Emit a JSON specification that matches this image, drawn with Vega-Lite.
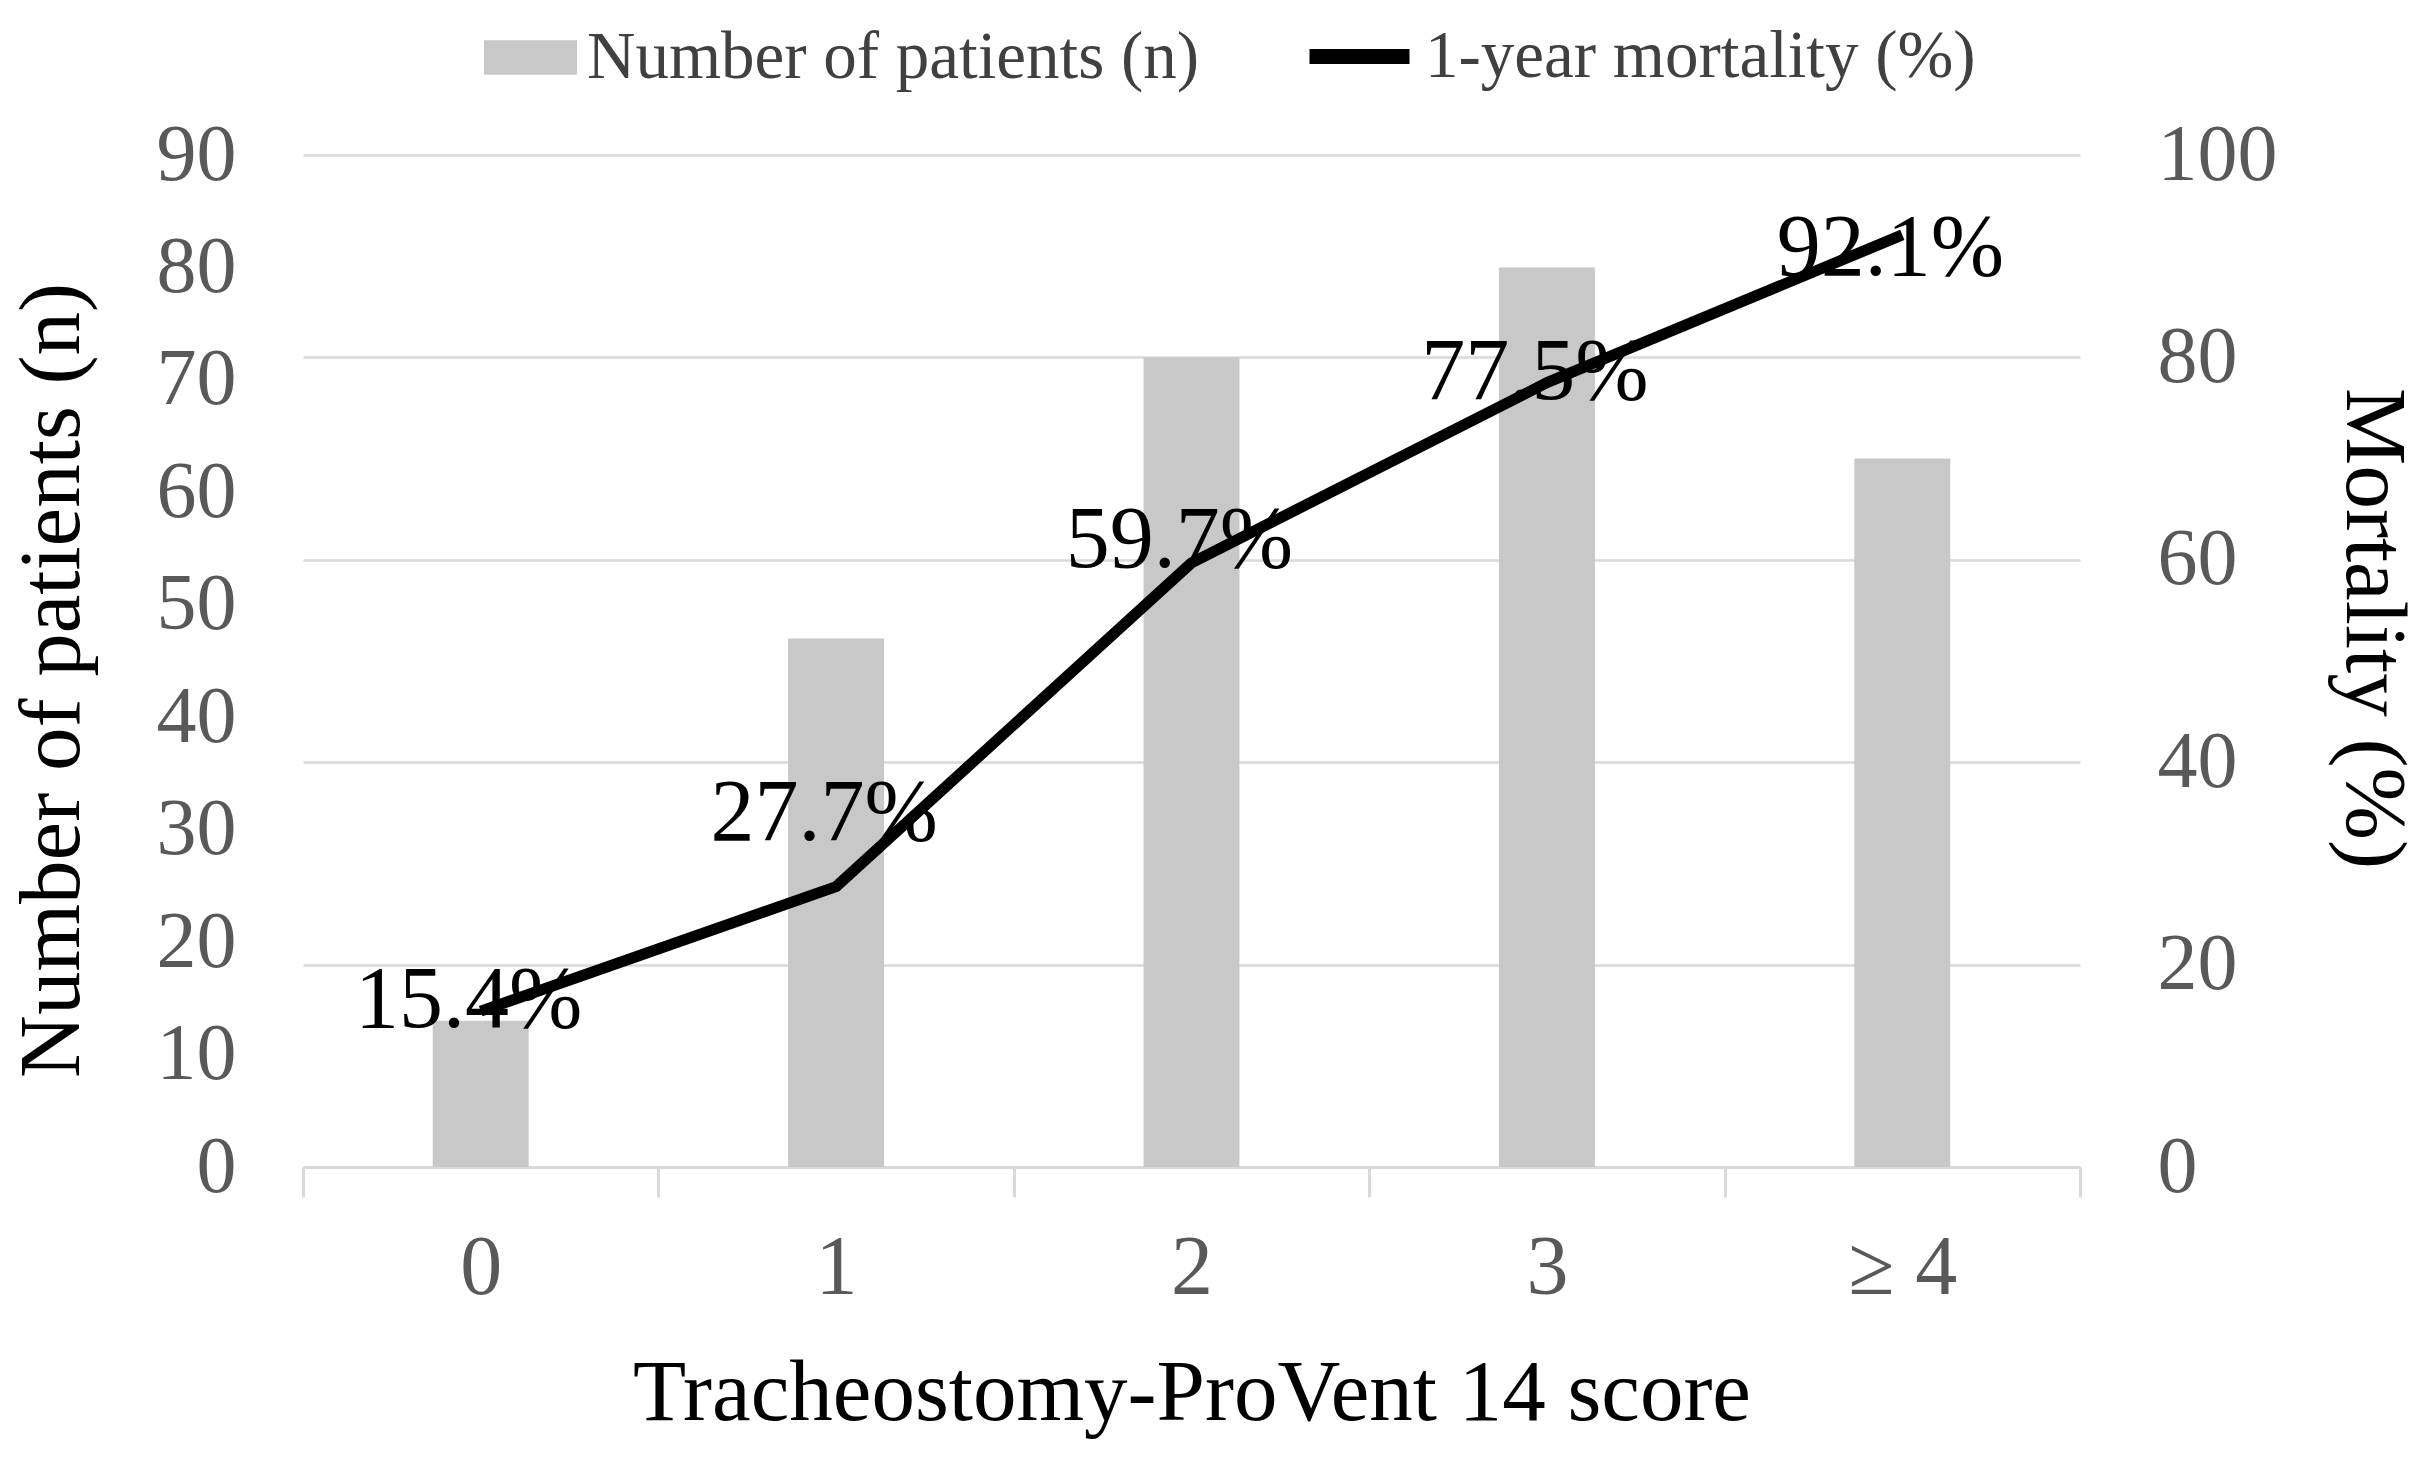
{
  "$schema": "https://vega.github.io/schema/vega-lite/v6.json",
  "width": 1777,
  "height": 1012,
  "autosize": {"type": "none"},
  "padding": {"left": 303, "top": 155, "right": 353, "bottom": 295},
  "background": "white",
  "config": {"view": {"stroke": null}, "font": "Liberation Serif"},
  "data": {
    "values": [
      {"score": "0", "patients": 13, "mortality": 15.4, "label": "15.4%"},
      {"score": "1", "patients": 47, "mortality": 27.7, "label": "27.7%"},
      {"score": "2", "patients": 72, "mortality": 59.7, "label": "59.7%"},
      {"score": "3", "patients": 80, "mortality": 77.5, "label": "77.5%"},
      {"score": "≥ 4", "patients": 63, "mortality": 92.1, "label": "92.1%"}
    ]
  },
  "encoding": {
    "x": {
      "field": "score",
      "type": "nominal",
      "sort": null,
      "scale": {"paddingInner": 0, "paddingOuter": 0},
      "axis": {
        "title": "Tracheostomy-ProVent 14 score",
        "labelAngle": 0,
        "labelFontSize": 84,
        "labelColor": "#595959",
        "labelFont": "Liberation Serif",
        "labelPadding": 30,
        "domainColor": "#d9d9d9",
        "domainWidth": 3,
        "tickColor": "#d9d9d9",
        "tickWidth": 3,
        "tickSize": 30,
        "tickBand": "extent",
        "titleFontSize": 87,
        "titleFont": "Liberation Serif",
        "titleFontWeight": "normal",
        "titleColor": "#000000",
        "titlePadding": 40
      }
    }
  },
  "layer": [
    {
      "mark": {"type": "bar", "color": "#c8c8c8", "width": {"band": 0.27}},
      "encoding": {
        "y": {
          "field": "patients",
          "type": "quantitative",
          "scale": {"domain": [0, 90], "nice": false},
          "axis": {
            "orient": "left",
            "values": [0, 10, 20, 30, 40, 50, 60, 70, 80, 90],
            "grid": false,
            "domain": false,
            "ticks": false,
            "labelFontSize": 80,
            "labelFont": "Liberation Serif",
            "labelColor": "#595959",
            "labelPadding": 67,
            "title": "Number of patients (n)",
            "titleFontSize": 87,
            "titleFont": "Liberation Serif",
            "titleFontWeight": "normal",
            "titleColor": "#000000",
            "titleX": -207,
            "titleY": 525,
            "titleBaseline": "bottom"
          }
        },
        "color": {
          "datum": "Number of patients (n)",
          "scale": {"range": ["#c8c8c8"]},
          "legend": {
            "orient": "none",
            "legendX": 181,
            "legendY": -144,
            "title": null,
            "symbolType": "M-1,-0.37H1V0.37H-1Z",
            "symbolSize": 8649,
            "symbolStrokeWidth": 0,
            "labelFontSize": 67,
            "labelFont": "Liberation Serif",
            "labelColor": "#404040",
            "labelOffset": 10,
            "labelLimit": 0
          }
        }
      }
    },
    {
      "encoding": {
        "y": {
          "field": "mortality",
          "type": "quantitative",
          "scale": {"domain": [0, 100], "nice": false},
          "axis": {
            "orient": "right",
            "values": [0, 20, 40, 60, 80, 100],
            "grid": true,
            "gridColor": "#d9d9d9",
            "gridWidth": 2.5,
            "domain": false,
            "ticks": false,
            "labelFontSize": 80,
            "labelFont": "Liberation Serif",
            "labelColor": "#595959",
            "labelPadding": 77,
            "title": "Mortality (%)",
            "titleFontSize": 87,
            "titleFont": "Liberation Serif",
            "titleFontWeight": "normal",
            "titleColor": "#000000",
            "titleX": 248,
            "titleY": 473,
            "titleBaseline": "bottom"
          }
        }
      },
      "layer": [
        {
          "mark": {"type": "line", "strokeWidth": 11, "strokeJoin": "round"},
          "encoding": {
            "stroke": {
              "datum": "1-year mortality (%)",
              "scale": {"range": ["#000000"]},
              "legend": {
                "orient": "none",
                "legendX": 999,
                "legendY": -156,
                "title": null,
                "symbolType": "stroke",
                "symbolSize": 10000,
                "symbolStrokeWidth": 15,
                "labelFontSize": 67,
                "labelFont": "Liberation Serif",
                "labelColor": "#404040",
                "labelOffset": 8,
                "labelLimit": 0
              }
            }
          }
        },
        {
          "transform": [{"filter": "datum.score == '0' || datum.score == '3'"}],
          "mark": {"type": "text", "fontSize": 88, "font": "Liberation Serif", "color": "#000000", "baseline": "middle", "dx": -12, "dy": -10},
          "encoding": {"text": {"field": "label"}}
        },
        {
          "transform": [{"filter": "datum.score == '2'"}],
          "mark": {"type": "text", "fontSize": 88, "font": "Liberation Serif", "color": "#000000", "baseline": "middle", "dx": -12, "dy": -22},
          "encoding": {"text": {"field": "label"}}
        },
        {
          "transform": [{"filter": "datum.score == '1'"}],
          "mark": {"type": "text", "fontSize": 88, "font": "Liberation Serif", "color": "#000000", "baseline": "middle", "dx": -12, "dy": -73},
          "encoding": {"text": {"field": "label"}}
        },
        {
          "transform": [{"filter": "datum.score == '≥ 4'"}],
          "mark": {"type": "text", "fontSize": 88, "font": "Liberation Serif", "color": "#000000", "baseline": "middle", "dx": -12, "dy": 14},
          "encoding": {"text": {"field": "label"}}
        }
      ]
    }
  ],
  "resolve": {"scale": {"y": "independent"}}
}
